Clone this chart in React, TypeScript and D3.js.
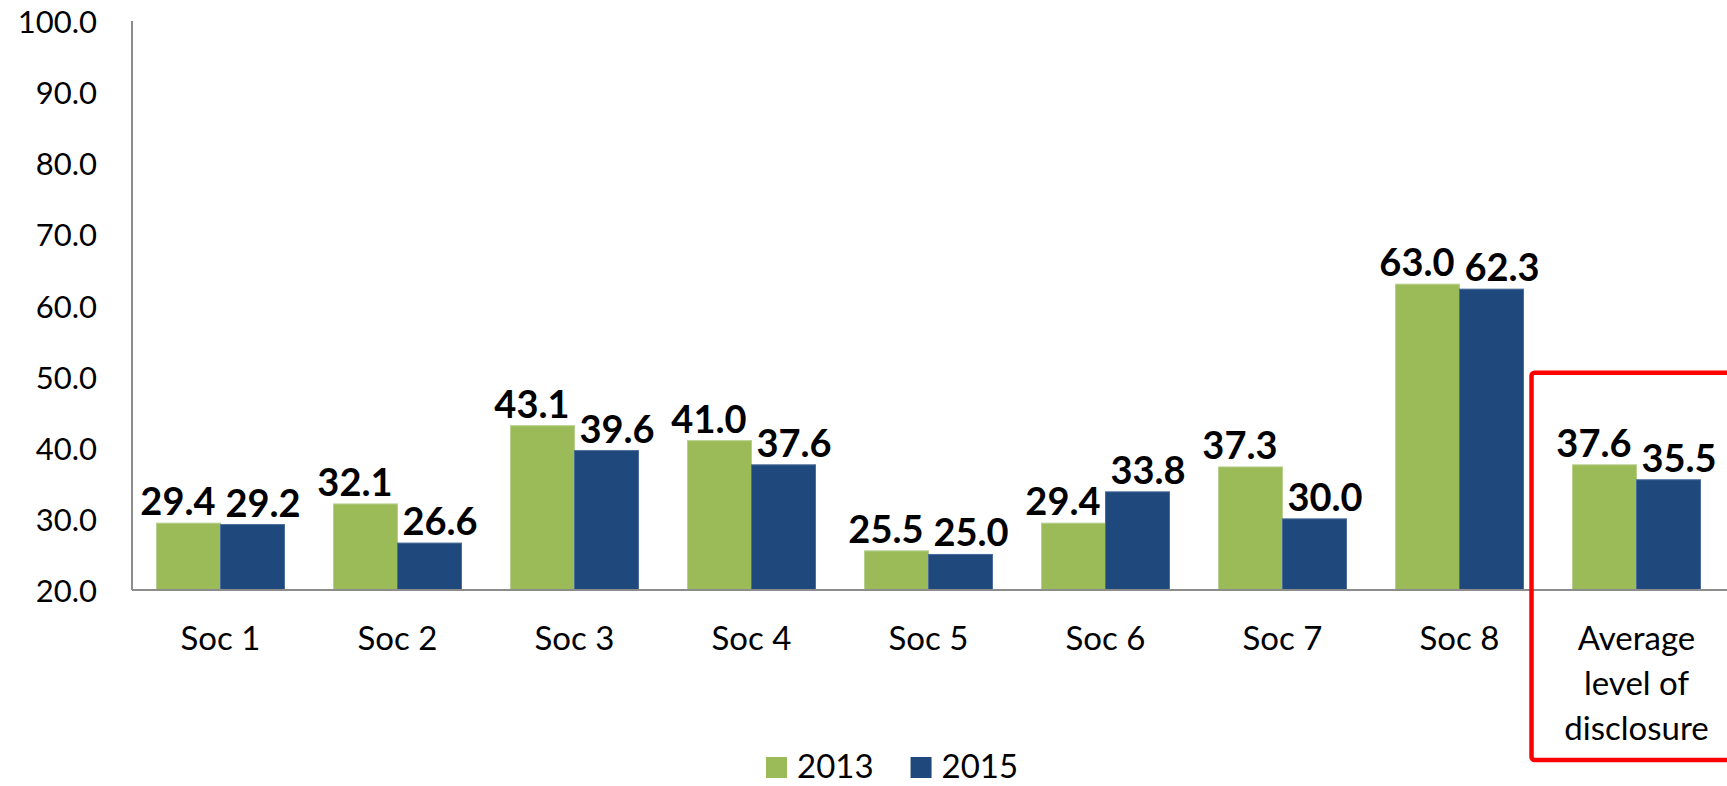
import React from 'react';
import * as d3 from 'd3';

const categoryLines: string[][] = [
  ['Soc 1'], ['Soc 2'], ['Soc 3'], ['Soc 4'], ['Soc 5'], ['Soc 6'], ['Soc 7'], ['Soc 8'],
  ['Average', 'level of', 'disclosure'],
];
const categories = categoryLines.map((l) => l.join(' '));
const values2013 = [29.4, 32.1, 43.1, 41.0, 25.5, 29.4, 37.3, 63.0, 37.6];
const values2015 = [29.2, 26.6, 39.6, 37.6, 25.0, 33.8, 30.0, 62.3, 35.5];
const seriesNames = ['2013', '2015'];
const seriesColors = ['#9BBB59', '#1F497D'];
const seriesStroke = ['#B9CF8E', '#4A6C9B'];
const yTicks = [20, 30, 40, 50, 60, 70, 80, 90, 100];
const highlightCategory = 'Average level of disclosure';

const W = 1727;
const H = 786;
const FONT = 'Lato, Carlito, Calibri, sans-serif';

let _ctx: CanvasRenderingContext2D | null = null;
function textWidth(t: string, font: string): number {
  if (!_ctx) _ctx = document.createElement('canvas').getContext('2d');
  if (!_ctx) return t.length * 18;
  _ctx.font = font;
  return _ctx.measureText(t).width;
}

export default function App() {
  const left = 132;
  const right = 1725;
  const top = 21;
  const bottom = 590;

  const x = d3
    .scaleBand<string>()
    .domain(categories)
    .range([left, right])
    .paddingInner(0.277)
    .paddingOuter(0.1385);
  const sub = d3.scaleBand<string>().domain(seriesNames).range([0, x.bandwidth()]);
  const y = d3.scaleLinear().domain([20, 100]).range([bottom, top]);

  const series = [values2013, values2015];
  const labelSize = 38;
  const labelFont = `bold ${labelSize}px ${FONT}`;

  // label positions with simple horizontal collision avoidance within each group
  const labels = categories.map((c, i) => {
    const items = series.map((vals, s) => {
      const txt = vals[i].toFixed(1);
      return {
        txt,
        s,
        cx: (x(c) as number) + (sub(seriesNames[s]) as number) + sub.bandwidth() / 2,
        y: y(vals[i]) - 8,
        w: Math.max(textWidth(txt, labelFont), 72),
      };
    });
    const [a, b] = items;
    const gap = 10;
    const overlap = a.w / 2 + b.w / 2 + gap - (b.cx - a.cx);
    if (overlap > 0) {
      a.cx -= overlap / 2;
      b.cx += overlap / 2;
    }
    return items;
  });

  const legendFont = `33px ${FONT}`;
  const legendX0 = 766;
  const sq = 21;
  const legendItems: { x: number; name: string; color: string }[] = [];
  let lx = legendX0;
  seriesNames.forEach((n, s) => {
    legendItems.push({ x: lx, name: n, color: seriesColors[s] });
    lx += sq + 10 + textWidth(n, legendFont) + 37;
  });

  const hx = (x(highlightCategory) as number) - 41;
  const hTop = y(50) - 4;

  return (
    <svg
      width={W}
      height={H}
      style={{ position: 'absolute', left: 0, top: 0, background: '#fff' }}
      fontFamily={FONT}
    >
      {/* y tick labels */}
      {yTicks.map((t) => (
        <text
          key={t}
          x={97}
          y={y(t)}
          textAnchor="end"
          dominantBaseline="central"
          fontSize={31}
          fill="#000"
        >
          {t.toFixed(1)}
        </text>
      ))}

      {/* bars */}
      {categories.map((c, i) => (
        <g key={c}>
          {series.map((vals, s) => (
            <rect
              key={s}
              x={(x(c) as number) + (sub(seriesNames[s]) as number)}
              y={y(vals[i])}
              width={sub.bandwidth()}
              height={bottom - y(vals[i])}
              fill={seriesColors[s]}
              stroke={seriesStroke[s]}
              strokeWidth={1}
            />
          ))}
        </g>
      ))}

      {/* axes */}
      <line x1={left} x2={left} y1={top} y2={bottom} stroke="#8C8C8C" strokeWidth={2} />
      <line x1={left} x2={W} y1={bottom} y2={bottom} stroke="#8C8C8C" strokeWidth={2} />

      {/* data labels */}
      {labels.map((items, i) =>
        items.map((l) => (
          <text
            key={`${i}-${l.s}`}
            x={l.cx}
            y={l.y}
            textAnchor="middle"
            fontSize={labelSize}
            fontWeight="bold"
            fill="#000"
          >
            {l.txt}
          </text>
        ))
      )}

      {/* category labels */}
      {categoryLines.map((lines, i) => (
        <text
          key={categories[i]}
          x={(x(categories[i]) as number) + x.bandwidth() / 2}
          y={650}
          textAnchor="middle"
          fontSize={33}
          fill="#000"
        >
          {lines.map((ln, k) => (
            <tspan key={k} x={(x(categories[i]) as number) + x.bandwidth() / 2} dy={k === 0 ? 0 : 45}>
              {ln}
            </tspan>
          ))}
        </text>
      ))}

      {/* highlight box */}
      <rect
        x={hx}
        y={hTop}
        width={W + 20 - hx}
        height={760 - hTop}
        rx={3}
        fill="none"
        stroke="#FF0000"
        strokeWidth={4.5}
      />

      {/* legend */}
      {legendItems.map((it) => (
        <g key={it.name}>
          <rect x={it.x} y={757} width={sq} height={sq} fill={it.color} />
          <text x={it.x + sq + 10} y={778} fontSize={33} fill="#000">
            {it.name}
          </text>
        </g>
      ))}
    </svg>
  );
}
